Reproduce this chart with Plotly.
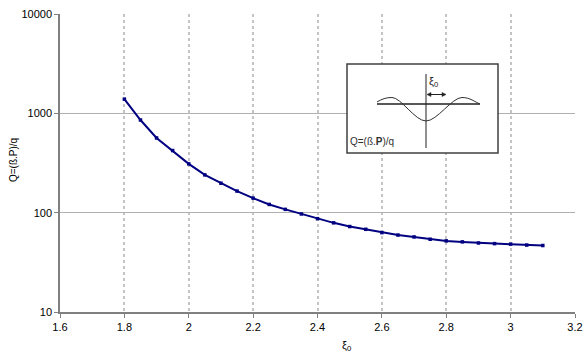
import plotly.graph_objects as go

# ---- data ----
xi0 = [1.80, 1.85, 1.90, 1.95, 2.00, 2.05, 2.10, 2.15, 2.20, 2.25, 2.30, 2.35, 2.40,
       2.45, 2.50, 2.55, 2.60, 2.65, 2.70, 2.75, 2.80, 2.85, 2.90, 2.95, 3.00, 3.05, 3.10]
Q = [1390, 857, 565, 422, 310, 240, 198, 165, 140, 121, 108, 97, 87,
     79, 72.5, 68, 63, 59.5, 57, 54, 52, 50.8, 49.5, 48.8, 48.2, 47.2, 46.7]

x_ticks = [1.6, 1.8, 2.0, 2.2, 2.4, 2.6, 2.8, 3.0, 3.2]
x_ticklabels = ["1.6", "1.8", "2", "2.2", "2.4", "2.6", "2.8", "3", "3.2"]
y_ticks = [10, 100, 1000, 10000]
y_ticklabels = ["10", "100", "1000", "10000"]

W, H = 585, 355
PL, PR, PT, PB = 60, 575, 14, 312          # plot area in screen pixels
ML, MR, MT, MB = PL, W - PR, PT, H - PB
PW, PH = PR - PL, PB - PT

def px(x):
    return (x - PL) / PW

def py(y):
    return (PB - y) / PH

FONT = "Liberation Sans, Arial, sans-serif"

fig = go.Figure()
fig.add_trace(go.Scatter(
    x=xi0, y=Q, mode="lines+markers",
    line=dict(color="#000080", width=2),
    marker=dict(symbol="square", size=3.5, color="#000080"),
    showlegend=False,
))

# inset schematic (decorative)
shapes = []
shapes.append(dict(type="rect", xref="paper", yref="paper",
                   x0=px(347), x1=px(498), y0=py(153), y1=py(64),
                   line=dict(color="#404040", width=1.5), fillcolor="white", layer="above"))
shapes.append(dict(type="line", xref="paper", yref="paper",
                   x0=px(426), x1=px(426), y0=py(148), y1=py(74),
                   line=dict(color="#202020", width=1), layer="above"))
shapes.append(dict(type="line", xref="paper", yref="paper",
                   x0=px(377), x1=px(480), y0=py(104), y1=py(104),
                   line=dict(color="#202020", width=1.5), layer="above"))

def P(x, y):
    return f"{px(x):.5f},{py(y):.5f}"

wave = ("M " + P(377, 102) +
        " C " + P(382, 99) + " " + P(386, 97.5) + " " + P(392, 97.5) +
        " C " + P(401, 97.5) + " " + P(415, 121) + " " + P(426, 121) +
        " C " + P(437, 121) + " " + P(452, 97.5) + " " + P(462, 97.5) +
        " C " + P(470, 97.5) + " " + P(475, 102) + " " + P(480, 104))
shapes.append(dict(type="path", xref="paper", yref="paper", path=wave,
                   line=dict(color="#303030", width=1), layer="above"))

# double-headed arrow for xi0
shapes.append(dict(type="line", xref="paper", yref="paper",
                   x0=px(428), x1=px(444), y0=py(94.5), y1=py(94.5),
                   line=dict(color="#202020", width=1), layer="above"))
shapes.append(dict(type="path", xref="paper", yref="paper",
                   path="M " + P(427, 94.5) + " L " + P(431, 92.5) + " L " + P(431, 96.5) + " Z",
                   line=dict(color="#202020", width=0.5), fillcolor="#202020", layer="above"))
shapes.append(dict(type="path", xref="paper", yref="paper",
                   path="M " + P(446, 94.5) + " L " + P(442, 92.5) + " L " + P(442, 96.5) + " Z",
                   line=dict(color="#202020", width=0.5), fillcolor="#202020", layer="above"))

annotations = [
    dict(x=px(433), y=py(82), xref="paper", yref="paper", showarrow=False,
         xanchor="center", yanchor="middle",
         text="ξ<sub>0</sub>", font=dict(family=FONT, size=11, color="#202020")),
    dict(x=px(348), y=py(141), xref="paper", yref="paper", showarrow=False,
         xanchor="left", yanchor="middle", text="Q=(ß.<b>P</b>)/q",
         font=dict(family=FONT, size=10, color="#303030")),
    dict(x=px(13), y=py(160), xref="paper", yref="paper", showarrow=False,
         xanchor="center", yanchor="middle",
         textangle=-90, text="Q=(ß.P)/q",
         font=dict(family=FONT, size=10, color="black")),
    dict(x=px(346), y=py(346), xref="paper", yref="paper", showarrow=False,
         xanchor="center", yanchor="middle",
         text="ξ<sub>0</sub>", font=dict(family=FONT, size=11, color="black")),
]

fig.update_layout(
    width=W, height=H,
    margin=dict(l=ML, r=MR, t=MT, b=MB),
    paper_bgcolor="white", plot_bgcolor="white",
    font=dict(family=FONT, size=11, color="black"),
    shapes=shapes, annotations=annotations,
    xaxis=dict(range=[1.6, 3.2], tickvals=x_ticks, ticktext=x_ticklabels,
               showgrid=True, gridcolor="#c4c4c4", gridwidth=2, griddash="dot",
               showline=True, linecolor="#808080", linewidth=2,
               ticks="outside", ticklen=4, tickcolor="#808080", zeroline=False,
               ticklabeloverflow="allow", automargin=False,
               tickfont=dict(family=FONT, size=11, color="black")),
    yaxis=dict(type="log", range=[1, 4], tickvals=y_ticks, ticktext=y_ticklabels,
               showgrid=True, gridcolor="#b0b0b0", gridwidth=1,
               showline=True, linecolor="#808080", linewidth=1.5,
               ticks="outside", ticklen=4, tickcolor="#808080", zeroline=False,
               ticklabeloverflow="allow", automargin=False,
               tickfont=dict(family=FONT, size=11, color="black")),
)

fig.write_html(
    "out.html",
    config={"displayModeBar": False},
    post_script="document.body.style.margin='0';document.body.style.overflow='hidden';",
)
